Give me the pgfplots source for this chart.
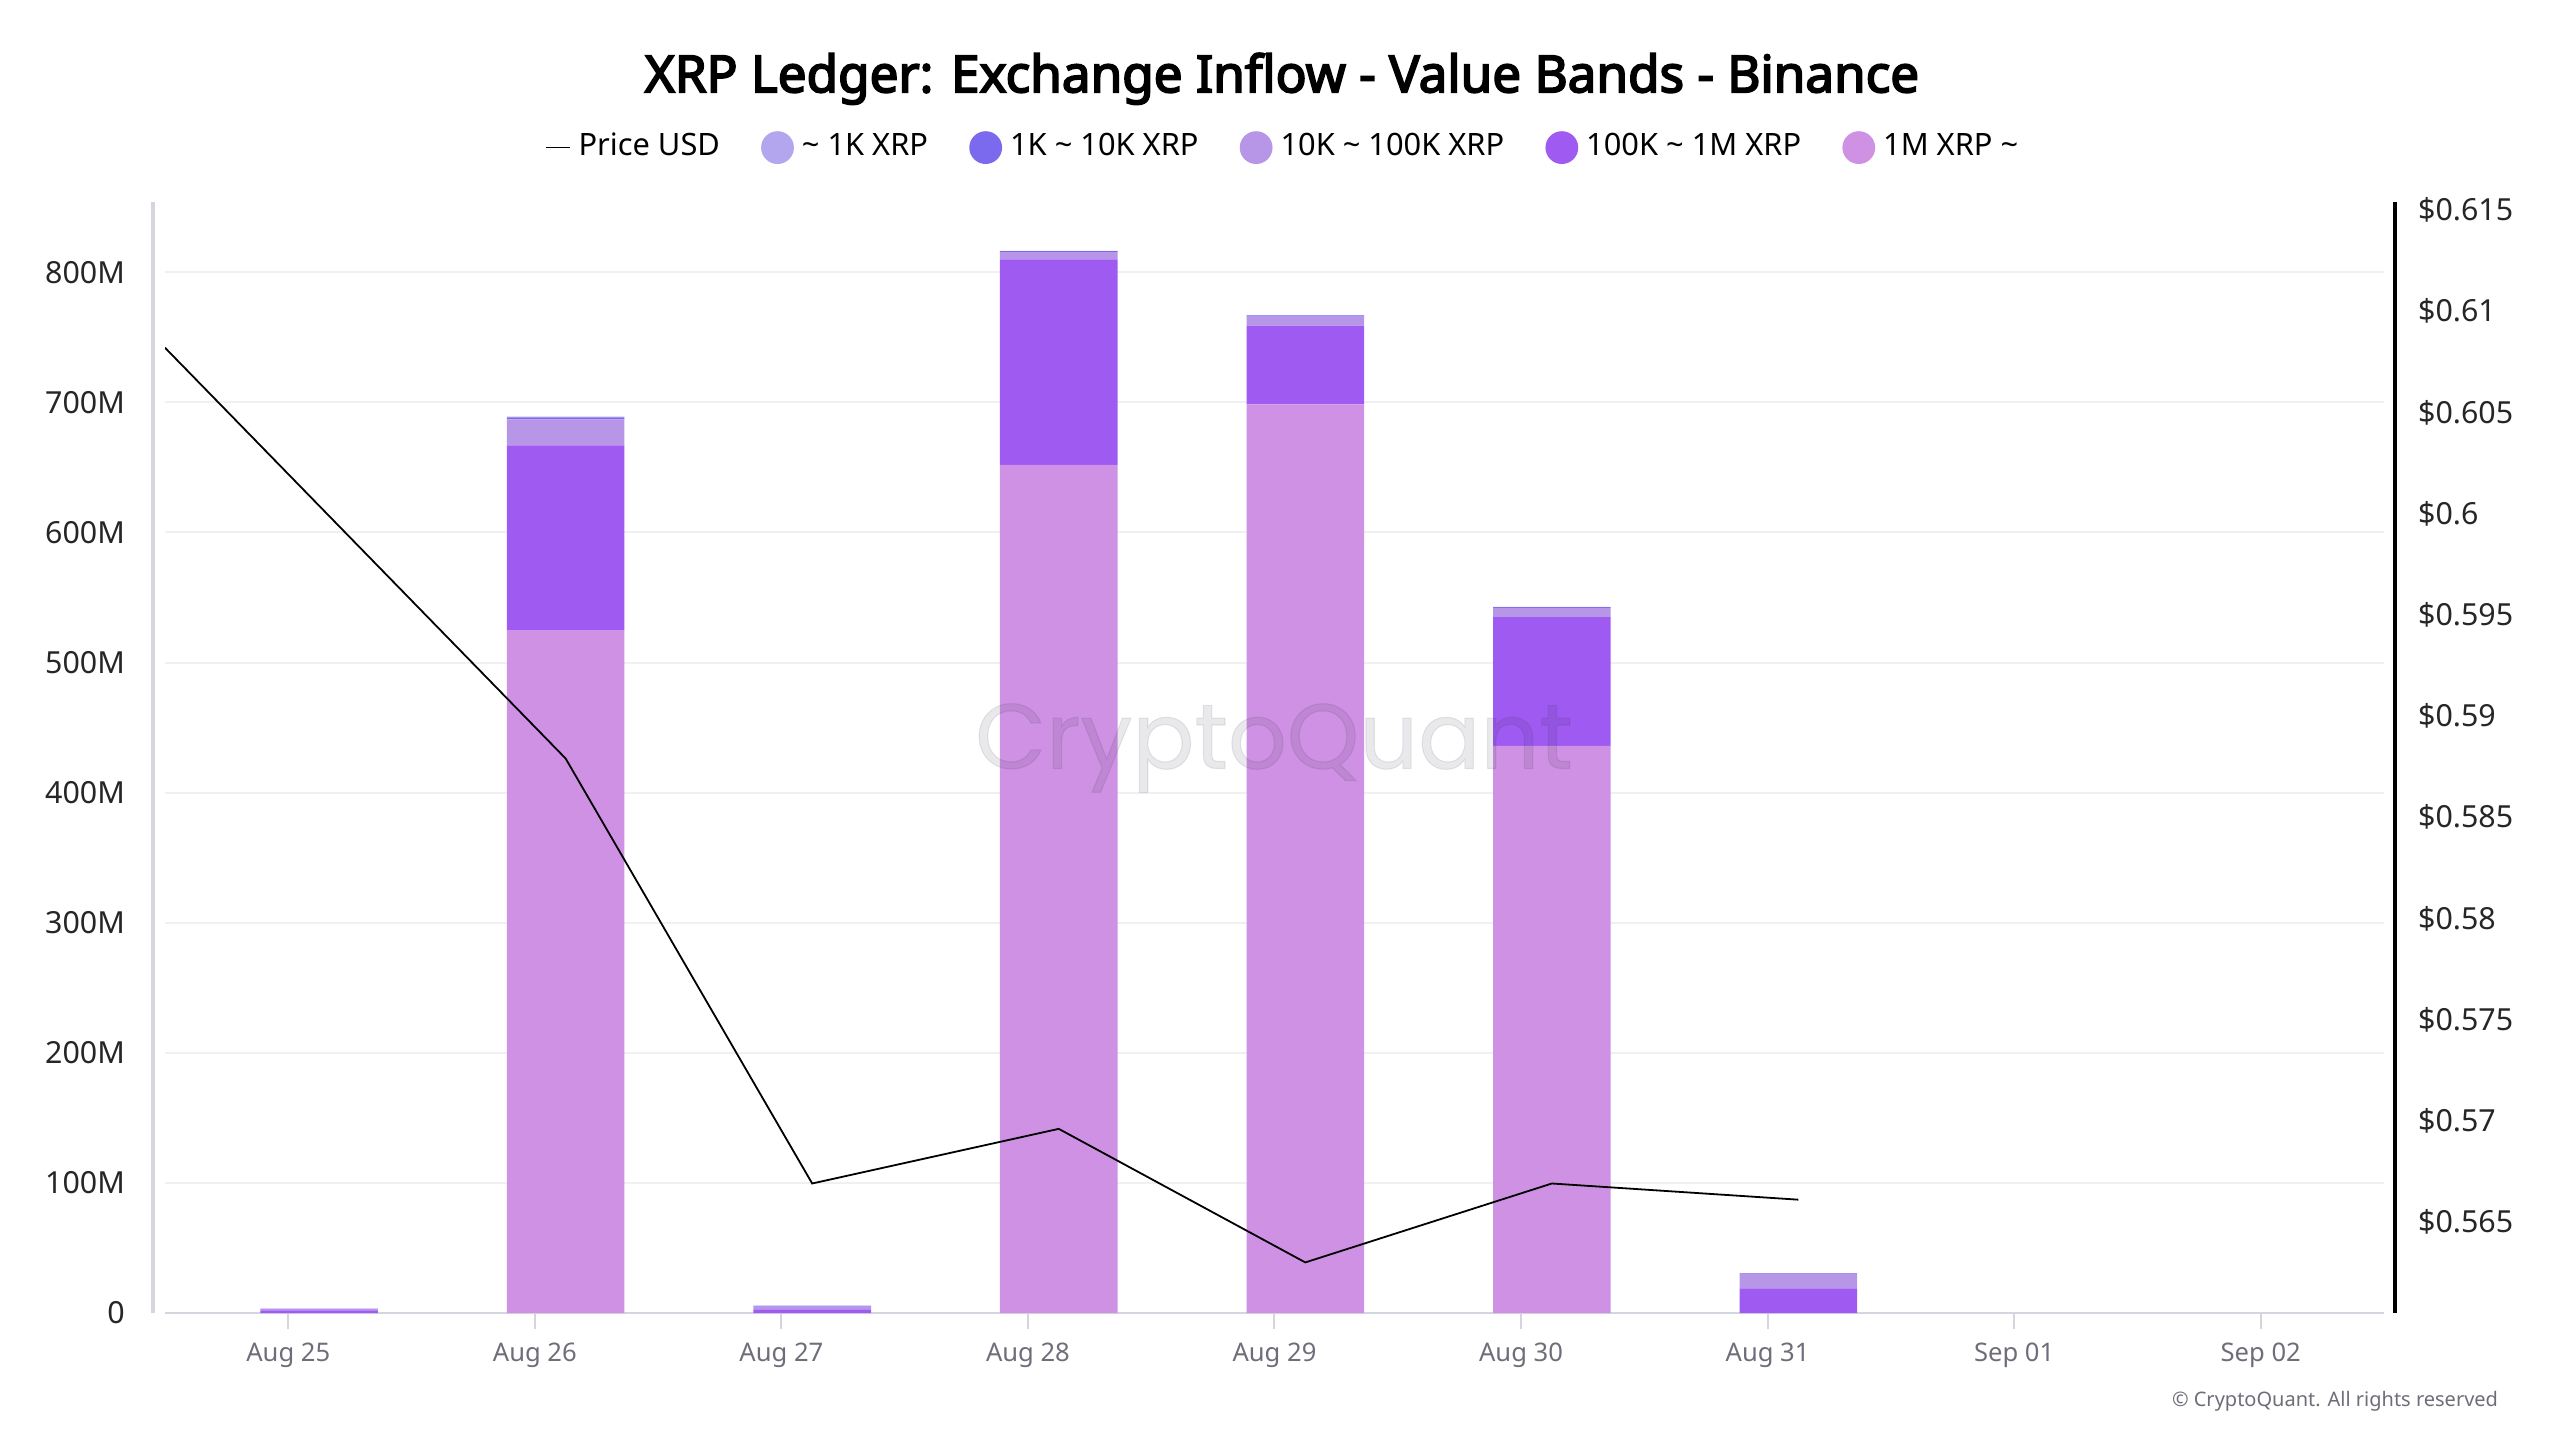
\documentclass[border=0pt]{standalone}
\usepackage{fontspec}
\setmainfont{Noto Sans}
\newfontfamily\titlefont{Noto Sans}[FakeBold=3.5]
\newfontfamily\wmfont{Poppins}[FakeBold=1.2]
\usepackage{pgfplots}
\pgfplotsset{compat=1.18}
\definecolor{cA}{HTML}{B3A6EF}
\definecolor{cB}{HTML}{7C6AEE}
\definecolor{cC}{HTML}{B796E8}
\definecolor{cD}{HTML}{9F5AF1}
\definecolor{cE}{HTML}{CF91E4}
\definecolor{gridc}{HTML}{F0F0F3}
\definecolor{axc}{HTML}{D5D5E0}
\definecolor{tickc}{HTML}{6E6E7A}
\definecolor{wmc}{HTML}{3A3550}
\begin{document}
\begin{tikzpicture}
\path[use as bounding box] (0pt,0pt) rectangle (640pt,360pt);
\begin{axis}[
  at={(41.25pt,31.75pt)}, anchor=south west, scale only axis,
  width=554.75pt, height=277.75pt,
  xmin=-0.5, xmax=8.5, ymin=0, ymax=854,
  ybar stacked, bar width=29.4pt,
  /pgf/number format/assume math mode=true,
  axis x line*=bottom, axis y line*=left,
  x axis line style={draw=axc, line width=0.6pt, -},
  y axis line style={draw=axc, line width=0.8pt, xshift=-3pt, -},
  xtick={0,1,2,3,4,5,6,7,8},
  xticklabels={Aug 25,Aug 26,Aug 27,Aug 28,Aug 29,Aug 30,Aug 31,Sep 01,Sep 02},
  ytick={0,100,200,300,400,500,600,700,800},
  yticklabels={0,100M,200M,300M,400M,500M,600M,700M,800M},
  tick align=outside, major tick length=4pt,
  xtick style={draw=axc, line width=0.5pt},
  ytick style={draw=none},
  ymajorgrids, grid style={draw=gridc, line width=0.5pt},
  xticklabel style={font=\fontsize{6.4}{8}\selectfont, text=tickc, yshift=0pt},
  yticklabel style={font=\fontsize{7.6}{9}\selectfont, text=black!85, xshift=-2.5pt},
  legend columns=-1,
  legend style={at={(0.505,1.049)}, anchor=center, draw=none, fill=none,
    font=\fontsize{7.7}{9}\selectfont,
    /tikz/every even column/.append style={column sep=8.3pt}},
]
\addlegendimage{legend image code/.code={\draw[black,line width=0.4pt] (0pt,0pt) -- (6pt,0pt);}}
\addlegendentry{Price USD}
\addlegendimage{legend image code/.code={\fill[cA] (3.9pt,0pt) circle (3.9pt);}}
\addlegendentry{\textasciitilde{} 1K XRP}
\addlegendimage{legend image code/.code={\fill[cB] (3.9pt,0pt) circle (3.9pt);}}
\addlegendentry{1K \textasciitilde{} 10K XRP}
\addlegendimage{legend image code/.code={\fill[cC] (3.9pt,0pt) circle (3.9pt);}}
\addlegendentry{10K \textasciitilde{} 100K XRP}
\addlegendimage{legend image code/.code={\fill[cD] (3.9pt,0pt) circle (3.9pt);}}
\addlegendentry{100K \textasciitilde{} 1M XRP}
\addlegendimage{legend image code/.code={\fill[cE] (3.9pt,0pt) circle (3.9pt);}}
\addlegendentry{1M XRP \textasciitilde}
% 1M XRP ~
\addplot[fill=cE, draw=none, forget plot] coordinates {(0.125,0) (1.125,525) (2.125,0) (3.125,652) (4.125,698.5) (5.125,436) (6.125,0)};
% 100K ~ 1M
\addplot[fill=cD, draw=none, forget plot] coordinates {(0.125,2) (1.125,142) (2.125,2.5) (3.125,158) (4.125,60.5) (5.125,99) (6.125,19)};
% 10K ~ 100K
\addplot[fill=cC, draw=none, forget plot] coordinates {(0.125,1) (1.125,20) (2.125,2.5) (3.125,5.5) (4.125,7) (5.125,7) (6.125,11)};
% 1K ~ 10K
\addplot[fill=cB, draw=none, forget plot] coordinates {(0.125,0.2) (1.125,1.5) (2.125,0.4) (3.125,0.8) (4.125,0.8) (5.125,0.6) (6.125,0.5)};
% ~ 1K
\addplot[fill=cA, draw=none, forget plot] coordinates {(0.125,0.1) (1.125,0.5) (2.125,0.2) (3.125,0.2) (4.125,0.2) (5.125,0.2) (6.125,0.1)};
\end{axis}
\node[text=wmc, opacity=0.11, font=\fontsize{23}{28}\selectfont\wmfont] at (318.5pt,173pt) {CryptoQuant};
\begin{axis}[
  at={(41.25pt,31.75pt)}, anchor=south west, scale only axis,
  width=554.75pt, height=277.75pt,
  xmin=-0.5, xmax=8.5, ymin=0.5605, ymax=0.6154,
  /pgf/number format/assume math mode=true,
  axis y line*=right, axis x line=none,
  y axis line style={draw=black, line width=1pt, xshift=2.75pt, -},
  ytick={0.565,0.57,0.575,0.58,0.585,0.59,0.595,0.6,0.605,0.61,0.615},
  yticklabels={\$0.565,\$0.57,\$0.575,\$0.58,\$0.585,\$0.59,\$0.595,\$0.6,\$0.605,\$0.61,\$0.615},
  tick align=outside, major tick length=4pt,
  ytick style={draw=none},
  yticklabel style={font=\fontsize{7.6}{9}\selectfont, text=black!85, xshift=1pt},
]
\addplot[black, line width=0.45pt, mark=none] coordinates {(-0.5,0.6082) (1.125,0.5879) (2.125,0.5669) (3.125,0.5696) (4.125,0.5630) (5.125,0.5669) (6.125,0.5661)};
\end{axis}
\node[font=\fontsize{12.8}{16}\selectfont\titlefont] at (320.5pt,340.3pt) {XRP Ledger: Exchange Inflow - Value Bands - Binance};
\node[anchor=east, font=\fontsize{5}{6}\selectfont, text=tickc, inner sep=0pt] at (624.7pt,9.6pt) {\textcopyright{} CryptoQuant. All rights reserved};
\end{tikzpicture}
\end{document}
